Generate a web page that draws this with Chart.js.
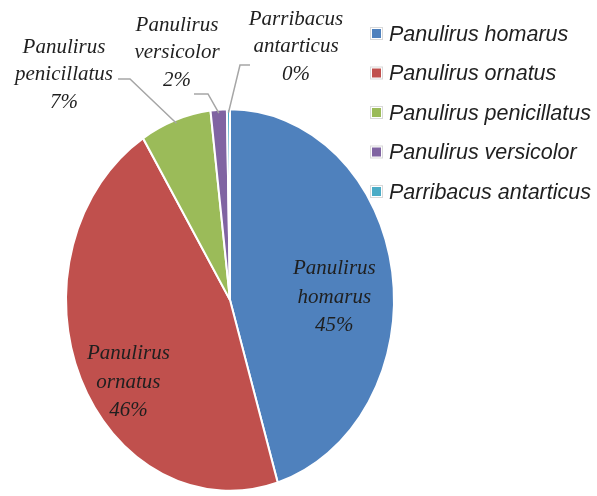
<!DOCTYPE html>
<html><head><meta charset="utf-8">
<script src="https://cdn.jsdelivr.net/npm/chart.js@4"></script>
<style>html,body{margin:0;padding:0;background:#fff}#wrap{width:597px;height:496px}</style>
</head><body><div id="wrap"><canvas id="c" width="597" height="496"></canvas></div>
<script>
const categories = ["Panulirus homarus","Panulirus ornatus","Panulirus penicillatus","Panulirus versicolor","Parribacus antarticus"];
const shares = [45.3, 45.8, 7.0, 1.6, 0.3];
const percentLabels = ["45%","46%","7%","2%","0%"];
const colors = ["#4F81BD","#C0504D","#9BBB59","#8064A2","#4BACC6"];

const SY = 1.164; // vertical stretch of the pie
const labelFont = "italic 21px 'Liberation Serif', serif";
const labelLayout = [
  {inside:true, rf:0.52, dx:20, dy:12},
  {inside:true, rf:0.60, dx:-12, dy:35},
  {inside:false, x:64, y:47, elbow:[118,79,130,79]},
  {inside:false, x:177, y:25, elbow:[194,94,208,94]},
  {inside:false, x:296, y:19, elbow:[250,65,240,65]}
];

const stretchPlugin = {
  id:'stretch',
  beforeDatasetsDraw(chart){
    const a = chart.getDatasetMeta(0).data[0];
    const ctx = chart.ctx; ctx.save();
    ctx.translate(a.x,a.y); ctx.scale(1,SY); ctx.translate(-a.x,-a.y);
  },
  afterDatasetsDraw(chart){ chart.ctx.restore(); }
};

const labelPlugin = {
  id:'labels',
  afterDraw(chart){
    const ctx = chart.ctx;
    const arcs = chart.getDatasetMeta(0).data;
    ctx.save();
    ctx.font = labelFont; ctx.textAlign='center'; ctx.textBaseline='middle';
    ctx.fillStyle='#1f1f1f';
    arcs.forEach((a,i)=>{
      const L = labelLayout[i];
      const mid = (a.startAngle+a.endAngle)/2;
      const parts = categories[i].split(' ');
      const lines = [parts[0], parts[1], percentLabels[i]];
      if (L.inside){
        const r = a.outerRadius*L.rf;
        const cx = a.x + Math.cos(mid)*r + L.dx, cy = a.y + Math.sin(mid)*r*SY + L.dy;
        lines.forEach((t,k)=>ctx.fillText(t, cx, cy + (k-1)*28.5));
      } else {
        lines.forEach((t,k)=>ctx.fillText(t, L.x, L.y + k*27.5));
        const ex = a.x + Math.cos(mid)*(a.outerRadius-3), ey = a.y + Math.sin(mid)*(a.outerRadius-3)*SY;
        ctx.strokeStyle='#a6a6a6'; ctx.lineWidth=1.5;
        ctx.beginPath(); ctx.moveTo(L.elbow[0],L.elbow[1]); ctx.lineTo(L.elbow[2],L.elbow[3]); ctx.lineTo(ex,ey); ctx.stroke();
      }
    });
    ctx.textAlign='left'; ctx.font="italic 21.5px 'Liberation Sans', sans-serif";
    categories.forEach((c,i)=>{
      const y = 34 + i*39.5;
      ctx.fillStyle='#fff'; ctx.strokeStyle='#d9d9d9'; ctx.lineWidth=1;
      ctx.fillRect(370.5,y-6.5,12,12); ctx.strokeRect(370.5,y-6.5,12,12);
      ctx.fillStyle=colors[i]; ctx.fillRect(372,y-5,9,9);
      ctx.fillStyle='#1f1f1f'; ctx.fillText(c, 389, y+1);
    });
    ctx.restore();
  }
};

new Chart(document.getElementById('c'), {
  type:'pie',
  data:{labels:categories, datasets:[{data:shares, backgroundColor:colors, borderColor:'#fff', borderWidth:2}]},
  options:{
    responsive:false, animation:false,
    layout:{padding:{left:65, right:202, top:135, bottom:31}},
    plugins:{legend:{display:false}, tooltip:{enabled:false}}
  },
  plugins:[stretchPlugin, labelPlugin]
});
</script></body></html>
